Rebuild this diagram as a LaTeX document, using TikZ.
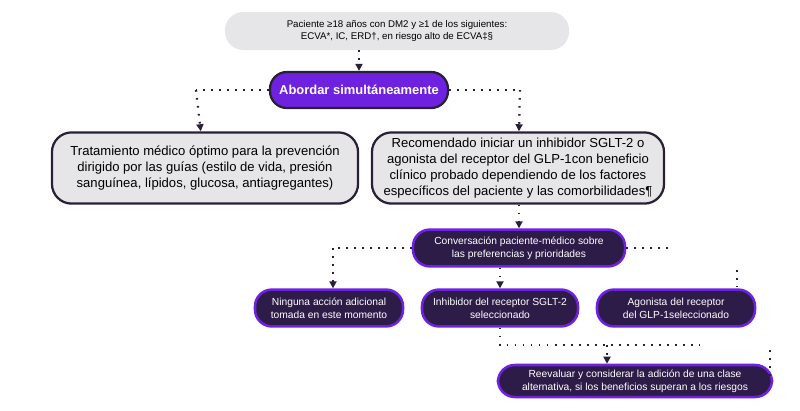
\documentclass[tikz,border=0pt]{standalone}
\usepackage{fontspec}
\setmainfont{Liberation Sans}
\usetikzlibrary{arrows.meta}
\definecolor{ink}{HTML}{2A2035}
\definecolor{violet}{HTML}{6E22E0}
\definecolor{plum}{HTML}{2E1C48}
\definecolor{pale}{HTML}{E6E6E8}
\tikzset{
  lightbox/.style={draw=ink,line width=1.6pt,fill=pale,rounded corners=14pt,align=center,inner sep=3pt},
  darkbox/.style={draw=violet,line width=1.8pt,fill=plum,text=white,rounded corners=12pt,align=center,font=\fontsize{7.3}{9.2}\selectfont,inner sep=2pt},
  dotline/.style={ink,line width=1.6pt,dash pattern=on 1.2pt off 4.5pt},
  arrowtip/.style={-{Triangle[length=5pt,width=5pt]}}
}
\begin{document}
\begin{tikzpicture}[x=0.025cm,y=-0.025cm]
\useasboundingbox (0,0) rectangle (800,410);

\node[fill=pale,rounded corners=13pt,minimum width=8.6cm,minimum height=0.95cm,align=center,font=\fontsize{6.9}{8.8}\selectfont] (patient) at (397,31)
  {Paciente ≥18 años con DM2 y ≥1 de los siguientes:\\ECVA*, IC, ERD†, en riesgo alto de ECVA‡§};
\node[draw=ink,line width=1.6pt,fill=violet,text=white,rounded corners=12pt,minimum width=4.45cm,minimum height=0.9cm,font=\fontsize{9.2}{11}\selectfont\bfseries] (both) at (359,90) {Abordar simultáneamente};

\node[lightbox,minimum width=7.65cm,minimum height=1.78cm,font=\fontsize{9.3}{11.2}\selectfont] (care) at (205,168)
  {Tratamiento médico óptimo para la prevención\\dirigido por las guías (estilo de vida, presión\\sanguínea, lípidos, glucosa, antiagregantes)};
\node[lightbox,minimum width=7.3cm,minimum height=1.78cm,font=\fontsize{9.3}{11.2}\selectfont] (drug) at (518,168)
  {Recomendado iniciar un inhibidor SGLT-2 o\\agonista del receptor del GLP-1con beneficio\\clínico probado dependiendo de los factores\\específicos del paciente y las comorbilidades¶};

\node[darkbox,minimum width=5.3cm,minimum height=0.92cm] (talk) at (519,248)
  {Conversación paciente-médico sobre\\las preferencias y prioridades};
\node[darkbox,minimum width=3.7cm,minimum height=0.92cm] (none) at (329,308)
  {Ninguna acción adicional\\tomada en este momento};
\node[darkbox,minimum width=3.9cm,minimum height=0.92cm] (sglt) at (500,308)
  {Inhibidor del receptor SGLT-2\\seleccionado};
\node[darkbox,minimum width=3.95cm,minimum height=0.92cm] (glp) at (676,308)
  {Agonista del receptor\\del GLP-1seleccionado};
\node[darkbox,minimum width=6.85cm,minimum height=0.8cm] (review) at (635,381)
  {Reevaluar y considerar la adición de una clase\\alternativa, si los beneficios superan a los riesgos};

\coordinate (jl) at (196,90);
\coordinate (jr) at (520,90);
\coordinate (kl) at (333,248);
\coordinate (kr) at (672,248);
\coordinate (mb) at (500,345);
\coordinate (me) at (700,345);
\coordinate (mr) at (607,345);

\draw[dotline,arrowtip] (patient.south -| both) -- (both);
\draw[dotline] (both) -- (jl);
\draw[dotline,arrowtip] (jl) -- (care);
\draw[dotline] (both) -- (jr);
\draw[dotline,arrowtip] (jr) -- (drug);
\draw[dotline,arrowtip] (drug.south -| talk) -- (talk);
\draw[dotline] (talk) -- (kl);
\draw[dotline,arrowtip] (kl) -- (kl |- none.north);
\draw[dotline] (talk) -- (kr);
\draw[dotline,arrowtip] (talk.south -| sglt) -- (sglt);
\draw[dotline] (737,270) -- (737,287);
\draw[dotline] (sglt.south) -- (mb) -- (me);
\draw[dotline,arrowtip] (mr) -- (mr |- review.north);
\draw[dotline] (770,350) -- (770,376);
\end{tikzpicture}
\end{document}
